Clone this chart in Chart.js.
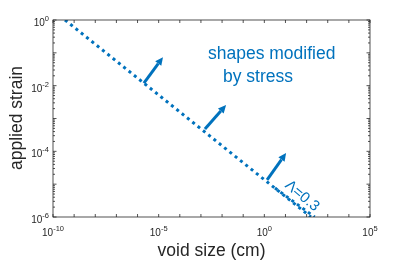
<!DOCTYPE html>
<html>
<head>
<meta charset="utf-8">
<script src="https://cdn.jsdelivr.net/npm/chart.js@4.4.1/dist/chart.umd.min.js"></script>
<style>
  html, body { margin: 0; padding: 0; background: #fff; }
  #wrap { width: 409px; height: 262px; }
</style>
</head>
<body>
<div id="wrap"><canvas id="strainChart" width="409" height="262"></canvas></div>
<script>
// --- Data ---
const voidSize = [3.7e-10, 1.6e2];
const appliedStrain = [1, 1e-6];
const branchSize = [3.2, 2.4e2];
const branchStrain = [7.6e-6, 1e-6];

const arrowBaseX = [2.0e-6, 1.55e-3, 1.35];
const arrowBaseY = [1.2e-2, 4.8e-4, 1.35e-5];
const arrowTipX = [1.6e-5, 1.55e-2, 10.7];
const arrowTipY = [7.4e-2, 2.6e-3, 8.9e-5];

const xTickExp = [-10, -5, 0, 5];
const yTickExp = [0, -2, -4, -6];

const BLUE = '#0072BD';
const INK = '#262626';
const FONT = '"Liberation Sans", Arial, Helvetica, sans-serif';

// --- Axes, labels and annotations ---
function drawExp(ctx, x, y, exp, align) {
    const base = '10';
    const sup = String(exp);
    ctx.font = '10px ' + FONT;
    const wb = ctx.measureText(base).width;
    ctx.font = '7.5px ' + FONT;
    const ws = ctx.measureText(sup).width;
    let left = x;
    if (align === 'center') left = x - (wb + ws) / 2;
    if (align === 'right') left = x - (wb + ws);
    ctx.textAlign = 'left';
    ctx.textBaseline = 'alphabetic';
    ctx.font = '10px ' + FONT;
    ctx.fillText(base, left, y);
    ctx.font = '7.5px ' + FONT;
    ctx.fillText(sup, left + wb, y - 5);
}

function drawArrow(ctx, x0, y0, x1, y1) {
    const ang = Math.atan2(y1 - y0, x1 - x0);
    const head = 8;
    const half = 3.8;
    const bx = x1 - head * Math.cos(ang);
    const by = y1 - head * Math.sin(ang);
    ctx.strokeStyle = BLUE;
    ctx.lineWidth = 3;
    ctx.beginPath();
    ctx.moveTo(x0, y0);
    ctx.lineTo(bx, by);
    ctx.stroke();
    ctx.fillStyle = BLUE;
    ctx.beginPath();
    ctx.moveTo(x1, y1);
    ctx.lineTo(bx + half * Math.sin(ang), by - half * Math.cos(ang));
    ctx.lineTo(bx - half * Math.sin(ang), by + half * Math.cos(ang));
    ctx.closePath();
    ctx.fill();
}

const framePlugin = {
    id: 'frame',
    afterDatasetsDraw(chart) {
        const ctx = chart.ctx;
        const xs = chart.scales.x;
        const ys = chart.scales.y;
        const a = chart.chartArea;
        ctx.save();

        // box
        ctx.strokeStyle = INK;
        ctx.lineWidth = 0.8;
        ctx.strokeRect(a.left, a.top, a.right - a.left, a.bottom - a.top);

        // x ticks (every decade, inward, top and bottom)
        ctx.beginPath();
        for (let e = -10; e <= 5; e++) {
            const px = xs.getPixelForValue(Math.pow(10, e));
            ctx.moveTo(px, a.bottom); ctx.lineTo(px, a.bottom - 3);
            ctx.moveTo(px, a.top); ctx.lineTo(px, a.top + 3);
        }
        // y ticks, major and minor, left and right
        for (let e = -6; e <= 0; e++) {
            const py = ys.getPixelForValue(Math.pow(10, e));
            ctx.moveTo(a.left, py); ctx.lineTo(a.left + 3.5, py);
            ctx.moveTo(a.right, py); ctx.lineTo(a.right - 3.5, py);
            if (e < 0) {
                for (let m = 2; m <= 9; m++) {
                    const pm = ys.getPixelForValue(m * Math.pow(10, e));
                    ctx.moveTo(a.left, pm); ctx.lineTo(a.left + 2, pm);
                    ctx.moveTo(a.right, pm); ctx.lineTo(a.right - 2, pm);
                }
            }
        }
        ctx.stroke();

        // tick labels
        ctx.fillStyle = INK;
        xTickExp.forEach(e => {
            drawExp(ctx, xs.getPixelForValue(Math.pow(10, e)), a.bottom + 19, e, 'center');
        });
        yTickExp.forEach(e => {
            drawExp(ctx, a.left - 4, ys.getPixelForValue(Math.pow(10, e)) + 6, e, 'right');
        });

        // axis titles
        ctx.font = '17.5px ' + FONT;
        ctx.textAlign = 'center';
        ctx.textBaseline = 'alphabetic';
        ctx.fillText('void size (cm)', (a.left + a.right) / 2, 256);
        ctx.save();
        ctx.translate(22, 118);
        ctx.rotate(-Math.PI / 2);
        ctx.fillText('applied strain', 0, 0);
        ctx.restore();

        // arrows
        for (let i = 0; i < arrowBaseX.length; i++) {
            drawArrow(ctx,
                xs.getPixelForValue(arrowBaseX[i]), ys.getPixelForValue(arrowBaseY[i]),
                xs.getPixelForValue(arrowTipX[i]), ys.getPixelForValue(arrowTipY[i]));
        }

        // annotations
        ctx.fillStyle = BLUE;
        ctx.font = '17.5px ' + FONT;
        ctx.textAlign = 'left';
        ctx.fillText('shapes modified', 208, 59);
        ctx.fillText('by stress', 223, 82);

        ctx.save();
        ctx.translate(302, 196);
        ctx.rotate(40 * Math.PI / 180);
        ctx.font = '15px ' + FONT;
        ctx.textAlign = 'center';
        ctx.textBaseline = 'middle';
        ctx.fillText('\u039B=0.3', 0, 0);
        ctx.restore();

        ctx.restore();
    }
};

new Chart(document.getElementById('strainChart'), {
    type: 'scatter',
    data: {
        datasets: [{
            data: voidSize.map((v, i) => ({ x: v, y: appliedStrain[i] })),
            showLine: true,
            borderColor: BLUE,
            borderWidth: 3,
            borderDash: [3, 3.8],
            borderCapStyle: 'butt',
            pointRadius: 0
        }, {
            data: branchSize.map((v, i) => ({ x: v, y: branchStrain[i] })),
            showLine: true,
            borderColor: BLUE,
            borderWidth: 3,
            borderDash: [3, 3.8],
            borderCapStyle: 'butt',
            pointRadius: 0
        }]
    },
    options: {
        responsive: false,
        animation: false,
        layout: { padding: { left: 53, top: 20, right: 39, bottom: 45 } },
        plugins: { legend: { display: false }, tooltip: { enabled: false } },
        scales: {
            x: { type: 'logarithmic', min: 1e-10, max: 1e5, display: false },
            y: { type: 'logarithmic', min: 1e-6, max: 1, display: false }
        }
    },
    plugins: [framePlugin]
});
</script>
</body>
</html>
